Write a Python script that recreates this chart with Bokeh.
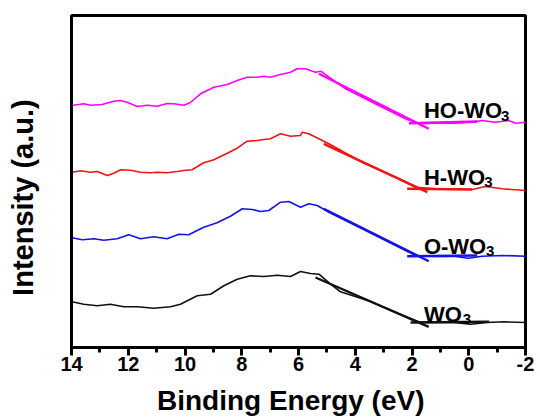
from bokeh.plotting import figure
from bokeh.models import Range1d, SingleIntervalTicker, FixedTicker
from bokeh.core.properties import value
from bokeh.embed import file_html
from bokeh.resources import INLINE

# ---------------- data (binding energy in eV, intensity in a.u.) ----------------
ho_x = [13.98, 13.57, 13.33, 12.92, 12.51, 12.27, 12.04, 11.68, 11.33, 10.98, 10.63, 10.39,
        10.04, 9.81, 9.45, 8.98, 8.51, 8.16, 7.81, 7.46, 7.22, 6.99, 6.63, 6.28, 6.05, 5.75,
        5.40, 5.22, 4.34, 3.17, 2.23, 1.76, 1.17, 0.47, -0.12, -0.47, -0.94, -1.41, -1.65, -2.0]
ho_y = [242, 243.7, 242.3, 243, 246.3, 247, 245.3, 241, 242.3, 241.3, 244, 243.7,
        242.3, 245, 253.7, 260.3, 263, 267, 270.3, 270.3, 271.3, 270.3, 273, 275.3, 278.7, 278.7,
        275.3, 276.3, 258.7, 242, 228.7, 223.7, 224.3, 224.3, 225.3, 227, 225.3, 227, 224.3, 225.3]

h_x = [13.98, 13.68, 13.33, 13.09, 12.74, 12.51, 12.27, 11.92, 11.57, 11.22, 10.98, 10.63,
       10.27, 10.04, 9.75, 9.34, 8.98, 8.51, 8.16, 7.81, 7.46, 7.22, 6.99, 6.63, 6.28, 5.93,
       5.87, 5.64, 5.28, 4.93, 3.76, 2.58, 1.88, 1.17, 0.47, -0.12, -0.59, -1.18, -2.0]
h_y = [175.3, 176.7, 175.3, 176, 172, 174.3, 177.7, 177.3, 175.3, 174.7, 175.3, 174.7,
       176, 177, 177.7, 184.7, 187.7, 194.3, 199.3, 206.3, 207, 208, 208.7, 213.7, 211.3, 212,
       215.3, 213.7, 208.7, 203.7, 185.3, 170.3, 160.3, 158.7, 158.7, 158, 161, 158.7, 157]

o_x = [13.98, 13.62, 13.21, 12.86, 12.39, 11.98, 11.57, 11.10, 10.63, 10.22, 9.87, 9.34,
       8.87, 8.40, 7.98, 7.63, 7.34, 7.05, 6.63, 6.34, 5.93, 5.64, 5.34, 4.93, 3.76, 2.58,
       1.88, 1.17, 0.47, 0.0, -0.47, -1.18, -2.0]
o_y = [109.7, 107.7, 108.7, 107.3, 108.7, 112.7, 108.7, 110.7, 108.7, 113.3, 112.7, 120.3,
       124.7, 131.3, 138.7, 138, 136, 137, 145.3, 146, 140.3, 143.7, 142, 135.3, 118.7, 102,
       92, 91, 91, 89.3, 91.3, 92, 91.3]

w_x = [13.98, 13.57, 13.09, 12.63, 12.16, 11.68, 11.10, 10.51, 10.16, 9.57, 9.10, 8.63,
       8.16, 7.69, 7.22, 6.75, 6.28, 5.93, 5.58, 5.28, 4.87, 4.52, 3.46, 2.29, 1.70, 1.11,
       0.53, -0.06, -0.65, -1.24, -2.0]
w_y = [45.7, 43.3, 41.7, 43.3, 40.7, 40.7, 39.3, 40.7, 43.3, 51.7, 53.3, 61.7,
       68.3, 71.7, 71, 72.3, 71, 76, 74, 73.3, 63.3, 55.7, 46, 31.7, 25, 25,
       25, 23.3, 25, 25.7, 25]

# tangent (onset) lines: [x0, x1], [y0, y1]
ho_slope_x, ho_slope_y = [5.28, 1.41], [273.7, 218.7]
ho_base_x, ho_base_y = [2.11, -0.30], [224.3, 226.0]
h_slope_x, h_slope_y = [5.11, 1.46], [203.7, 155.3]
h_base_x, h_base_y = [2.17, -0.12], [158.7, 158.0]
o_slope_x, o_slope_y = [5.11, 1.41], [138.7, 86.3]
o_base_x, o_base_y = [2.17, -0.30], [91.3, 92.0]
w_slope_x, w_slope_y = [5.40, 1.41], [70.0, 20.7]
w_base_x, w_base_y = [2.05, -0.72], [25.0, 25.7]

# sample labels: main text position and subscript position
label_main = ["HO-WO", "H-WO", "O-WO", "WO"]
label_x = [1.58, 1.58, 1.58, 1.58]
label_y = [237.0, 170.3, 101.3, 33.3]
sub_text = ["3", "3", "3", "3"]
sub_x = [-1.14, -0.55, -0.61, 0.21]
sub_y = [232.0, 165.3, 96.3, 28.3]

x_ticks = [14, 12, 10, 8, 6, 4, 2, 0, -2]

MAGENTA = "#ff00ff"
RED = "#f01414"
BLUE = "#1414e6"
BLACK = "#111111"
FONT = "Liberation Sans"
NBSP = "\u00a0"

p = figure(width=540, height=419, output_backend="svg", toolbar_location=None,
           x_range=Range1d(14, -2), y_range=Range1d(0, 332),
           min_border_left=71, min_border_right=15, min_border_top=15, min_border_bottom=72)

p.background_fill_color = "white"
p.border_fill_color = "white"
p.outline_line_color = "black"
p.outline_line_width = 3
p.xgrid.visible = False
p.ygrid.visible = False

# curves
for xs, ys, c in [(ho_x, ho_y, MAGENTA), (h_x, h_y, RED), (o_x, o_y, BLUE), (w_x, w_y, BLACK)]:
    p.line(xs, ys, line_color=c, line_width=1.6)

# tangent lines
for xs, ys, c in [(ho_slope_x, ho_slope_y, MAGENTA), (ho_base_x, ho_base_y, MAGENTA),
                  (h_slope_x, h_slope_y, RED), (h_base_x, h_base_y, RED),
                  (o_slope_x, o_slope_y, BLUE), (o_base_x, o_base_y, BLUE),
                  (w_slope_x, w_slope_y, BLACK), (w_base_x, w_base_y, BLACK)]:
    p.line(xs, ys, line_color=c, line_width=2.4)

# labels
p.text(x=label_x, y=label_y, text=label_main, text_font=value(FONT), text_font_style="bold",
       text_font_size="22px", text_color="black", text_align="left", text_baseline="alphabetic")
p.text(x=sub_x, y=sub_y, text=sub_text, text_font=value(FONT), text_font_style="bold",
       text_font_size="15px", text_color="black", text_align="left", text_baseline="alphabetic")

# x axis
xa = p.xaxis[0]
xa.ticker = SingleIntervalTicker(interval=2, num_minor_ticks=2)
xa.major_label_overrides = {-2: "-2"}
xa.axis_label = "Binding Energy (eV)" + NBSP * 2
xa.axis_label_text_font = FONT
xa.axis_label_text_font_style = "bold"
xa.axis_label_text_font_size = "28px"
xa.axis_label_text_color = "black"
xa.axis_label_standoff = 11
xa.major_label_text_font = FONT
xa.major_label_text_font_style = "bold"
xa.major_label_text_font_size = "20px"
xa.major_label_text_color = "black"
xa.major_label_standoff = 1
xa.axis_line_width = 3
xa.axis_line_color = "black"
xa.major_tick_in = 0
xa.major_tick_out = 8
xa.major_tick_line_width = 3
xa.minor_tick_in = 0
xa.minor_tick_out = 5
xa.minor_tick_line_width = 3

# y axis (no ticks)
ya = p.yaxis[0]
ya.ticker = FixedTicker(ticks=[])
ya.axis_label = "Intensity (a.u.)" + NBSP * 4
ya.axis_label_text_font = FONT
ya.axis_label_text_font_style = "bold"
ya.axis_label_text_font_size = "29px"
ya.axis_label_text_color = "black"
ya.axis_label_standoff = 33
ya.axis_line_width = 3
ya.axis_line_color = "black"
ya.major_tick_out = 0
ya.major_tick_in = 0
ya.minor_tick_out = 0
ya.minor_tick_in = 0
ya.major_label_text_font_size = "0px"

open("out.html", "w").write(file_html(p, INLINE))
